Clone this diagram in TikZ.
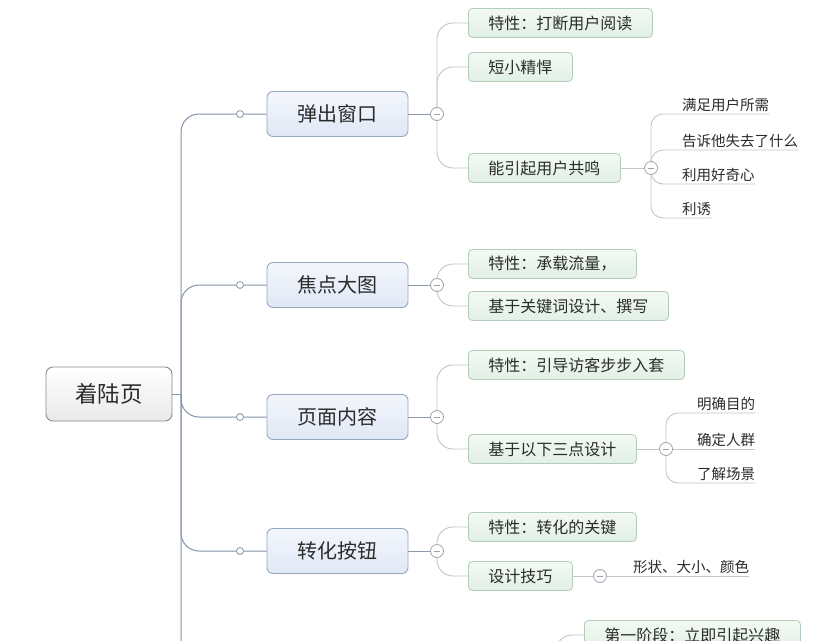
\documentclass[tikz,border=0pt]{standalone}
\usepackage{fontspec}
\setmainfont{Noto Sans CJK SC}
\definecolor{textc}{HTML}{2B2B2B}
\definecolor{rootb}{HTML}{8A8A8A}
\definecolor{rootf}{HTML}{E9E9E9}
\definecolor{l1b}{HTML}{97A7C0}
\definecolor{l1top}{HTML}{F3F6FC}
\definecolor{l1f}{HTML}{E0E8F5}
\definecolor{l2b}{HTML}{B3CDB9}
\definecolor{l2top}{HTML}{F2F9F3}
\definecolor{l2f}{HTML}{E2F0E6}
\definecolor{trunkc}{HTML}{8393AA}
\definecolor{twigc}{HTML}{C2C6CA}
\definecolor{knobc}{HTML}{8C98A8}
\definecolor{foldc}{HTML}{9AA2AA}
\begin{document}
\begin{tikzpicture}[x=1pt,y=-1pt,
  rootbox/.style={draw=rootb, line width=0.9pt, rounded corners=7pt, top color=white, bottom color=rootf, minimum width=126pt, minimum height=54pt, font=\fontsize{22.5}{24}\selectfont, text=textc},
  lonebox/.style={draw=l1b, line width=0.9pt, rounded corners=6pt, top color=l1top, bottom color=l1f, minimum width=141pt, minimum height=45pt, font=\fontsize{20}{22}\selectfont, text=textc},
  ltwobox/.style={draw=l2b, line width=0.8pt, rounded corners=4pt, top color=l2top, bottom color=l2f, minimum height=29pt, inner xsep=20pt, anchor=west, font=\fontsize{16}{18}\selectfont, text=textc},
  leafnode/.style={anchor=base west, inner sep=0pt, font=\fontsize{14.5}{16}\selectfont, text=textc},
  trunk/.style={draw=trunkc, line width=1pt, rounded corners=18pt},
  twig/.style={draw=twigc, line width=0.9pt, rounded corners=16pt},
  leafline/.style={draw=twigc, line width=0.9pt, rounded corners=12pt},
  knob/.style={circle, draw=knobc, fill=white, line width=0.8pt, inner sep=0pt, minimum size=7pt},
  fold/.style={circle, draw=foldc, fill=white, line width=0.8pt, inner sep=0pt, minimum size=13pt,
    path picture={\draw[foldc, line width=0.9pt] ([xshift=-3pt]path picture bounding box.center) -- ([xshift=3pt]path picture bounding box.center);}},
]
\useasboundingbox (0,0) rectangle (829,640);
\clip (0,0) rectangle (829,640);
\fill[white] (0,0) rectangle (829,640);

% nodes
\node[rootbox] (root) at (109,394) {着陆页};
\node[lonebox] (a) at (337.5,114) {弹出窗口};
\node[lonebox] (b) at (337.5,285) {焦点大图};
\node[lonebox] (c) at (337.5,417) {页面内容};
\node[lonebox] (d) at (337.5,551) {转化按钮};

\node[ltwobox] (a1) at (468,23) {特性：打断用户阅读};
\node[ltwobox] (a2) at (468,67) {短小精悍};
\node[ltwobox] (a3) at (468,168) {能引起用户共鸣};
\node[ltwobox] (b1) at (468,264) {特性：承载流量，};
\node[ltwobox] (b2) at (468,306) {基于关键词设计、撰写};
\node[ltwobox] (c1) at (468,365) {特性：引导访客步步入套};
\node[ltwobox] (c2) at (468,449) {基于以下三点设计};
\node[ltwobox] (d1) at (468,527) {特性：转化的关键};
\node[ltwobox] (d2) at (468,576) {设计技巧};
\node[ltwobox] (e1) at (584,635) {第一阶段：立即引起兴趣};

\node[leafnode] (a31) at (682,110) {满足用户所需};
\node[leafnode] (a32) at (682,146) {告诉他失去了什么};
\node[leafnode] (a33) at (682,180) {利用好奇心};
\node[leafnode] (a34) at (682,214) {利诱};
\node[leafnode] (c21) at (697,409) {明确目的};
\node[leafnode] (c22) at (697,445) {确定人群};
\node[leafnode] (c23) at (697,479) {了解场景};
\node[leafnode] (d21) at (633,572) {形状、大小、颜色};

% coordinates
\coordinate (T) at (181,394);
\coordinate (Tend) at (181,660);
\coordinate (fa) at (437,114);
\coordinate (fb) at (437,285);
\coordinate (fc) at (437,417);
\coordinate (fd) at (437,551);
\coordinate (fa3) at (651,168);
\coordinate (fc2) at (666,449);
\coordinate (fd2) at (600,576);
\coordinate (fe) at (556,700);

% trunk connectors
\draw[trunk] (root.east) -- (T);
\draw[trunk] (Tend) |- (a.west);
\draw[trunk] (T) |- (b.west);
\draw[trunk] (T) |- (c.west);
\draw[trunk] (T) |- (d.west);

% level 1 to fold
\draw[draw=knobc, line width=0.9pt] (a.east) -- (fa);
\draw[draw=knobc, line width=0.9pt] (b.east) -- (fb);
\draw[draw=knobc, line width=0.9pt] (c.east) -- (fc);
\draw[draw=knobc, line width=0.9pt] (d.east) -- (fd);
\draw[draw=twigc, line width=0.9pt] (a3.east) -- (fa3);
\draw[draw=twigc, line width=0.9pt] (c2.east) -- (fc2);
\draw[draw=twigc, line width=0.9pt] (d2.east) -- (fd2);

% level 2 branches
\draw[twig] (fa) |- (a1.west);
\draw[twig] (fa) |- (a2.west);
\draw[twig] (fa) |- (a3.west);
\draw[twig] (fb) |- (b1.west);
\draw[twig] (fb) |- (b2.west);
\draw[twig] (fc) |- (c1.west);
\draw[twig] (fc) |- (c2.west);
\draw[twig] (fd) |- (d1.west);
\draw[twig] (fd) |- (d2.west);
\draw[twig] (fe) |- (e1.west);

% leaves
\draw[leafline] (fa3) |- ([yshift=-4pt]a31.base east);
\draw[leafline] (fa3) |- ([yshift=-4pt]a32.base east);
\draw[leafline] (fa3) |- ([yshift=-4pt]a33.base east);
\draw[leafline] (fa3) |- ([yshift=-4pt]a34.base east);
\draw[leafline] (fc2) |- ([yshift=-4pt]c21.base east);
\draw[leafline] (fc2) -- ([yshift=-4pt]c22.base east);
\draw[leafline] (fc2) |- ([yshift=-4pt]c23.base east);
\draw[leafline] (fd2) -- ([yshift=-4pt]d21.base east);

% knobs and folds
\node[knob] (ka) at (240,114) {};
\node[knob] (kb) at (240,285) {};
\node[knob] (kc) at (240,417) {};
\node[knob] (kd) at (240,551) {};
\node[fold] (Fa) at (fa) {};
\node[fold] (Fb) at (fb) {};
\node[fold] (Fc) at (fc) {};
\node[fold] (Fd) at (fd) {};
\node[fold] (Fa3) at (fa3) {};
\node[fold] (Fc2) at (fc2) {};
\node[fold] (Fd2) at (fd2) {};
\end{tikzpicture}
\end{document}
